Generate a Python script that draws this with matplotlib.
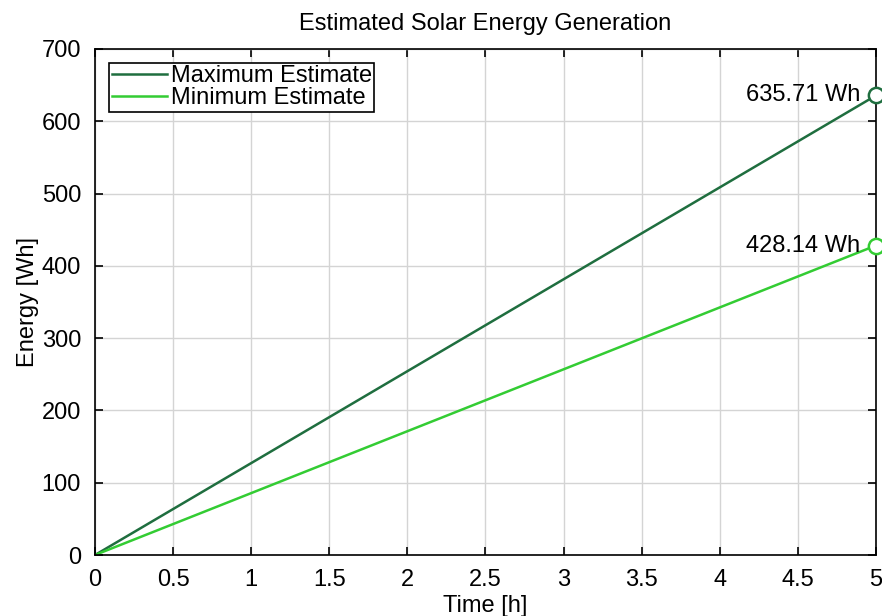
import matplotlib
matplotlib.use('Agg')
from matplotlib import pyplot as plt
import numpy as np

plt.rcParams['font.family'] = ['Liberation Sans', 'DejaVu Sans']

# data
time_h = [0, 5]
energy_max = [0, 635.71]
energy_min = [0, 428.14]
x_ticks = [0, 0.5, 1, 1.5, 2, 2.5, 3, 3.5, 4, 4.5, 5]
y_ticks = [0, 100, 200, 300, 400, 500, 600, 700]

dark_green = '#1f6e3f'
light_green = '#33cc33'

fig = plt.figure(figsize=(8.82, 6.16), dpi=100)
ax = fig.add_axes([0.1077, 0.099, 0.8855, 0.8215])

ax.plot(time_h, energy_max, color=dark_green, lw=1.8, label='Maximum Estimate')
ax.plot(time_h, energy_min, color=light_green, lw=1.8, label='Minimum Estimate')

# end points
for y, c in [(energy_max[-1], dark_green), (energy_min[-1], light_green)]:
    ax.plot(time_h[-1], y, 'o', mfc='white', mec=c, mew=1.8, ms=11, clip_on=False, zorder=5)
    ax.text(time_h[-1] - 0.1, y, '%.2f Wh' % y, ha='right', va='center', fontsize=17)

ax.set_xlim(0, 5)
ax.set_ylim(0, 700)
ax.set_xticks(x_ticks)
ax.set_xticklabels(['0', '0.5', '1', '1.5', '2', '2.5', '3', '3.5', '4', '4.5', '5'])
ax.set_yticks(y_ticks)
ax.tick_params(direction='in', top=True, right=True, labelsize=17, length=6, width=1.2)
ax.tick_params(axis='x', pad=10)
ax.tick_params(axis='y', pad=10)
ax.grid(True, color='#d4d4d4', lw=1)
ax.set_axisbelow(True)
for s in ax.spines.values():
    s.set_linewidth(1.2)

ax.set_xlabel('Time [h]', fontsize=17, labelpad=3)
ax.set_ylabel('Energy [Wh]', fontsize=17, labelpad=2)
ax.set_title('Estimated Solar Energy Generation', fontsize=17, pad=14)

leg = ax.legend(loc='upper left', fontsize=17, fancybox=False, edgecolor='black',
                framealpha=1, borderpad=0.1, labelspacing=0.0, handlelength=2.35,
                handletextpad=0.15, borderaxespad=0.6)
leg.get_frame().set_linewidth(1.2)

fig.savefig('out.png', dpi=100)
